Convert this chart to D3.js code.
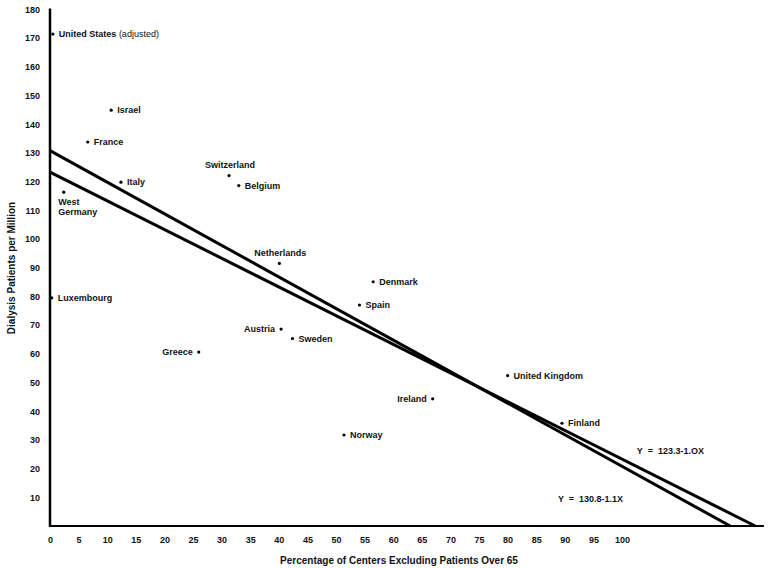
<!DOCTYPE html>
<html>
<head>
<meta charset="utf-8">
<script src="https://cdn.jsdelivr.net/npm/d3@7"></script>
<style>
	body { margin: 0; background: #fff; }
	text { font-family: 'Liberation Sans', Arial, sans-serif; font-weight: bold; fill: #111; }
</style>
</head>
<body>
<svg width="769" height="568"></svg>
<script>
// Countries
const countries = ['United States', 'Israel', 'France', 'Italy', 'West Germany', 'Luxembourg',
	'Switzerland', 'Belgium', 'Netherlands', 'Denmark', 'Spain', 'Austria', 'Sweden', 'Greece',
	'United Kingdom', 'Ireland', 'Finland', 'Norway'];
// % of centers excluding patients over 65
const pctExcluding = [0.5, 10.7, 6.6, 12.4, 2.4, 0.3, 31.3, 33.0, 40.1, 56.5, 54.1, 40.4, 42.4, 26.0,
	80.0, 66.9, 89.5, 51.4];
// dialysis patients per million
const patientsPerMillion = [171.4, 144.9, 133.8, 119.8, 116.3, 79.5, 122.1, 118.6, 91.5, 85.1, 77.0,
	68.6, 65.3, 60.6, 52.4, 44.3, 35.8, 31.7];

// Two fitted lines: intercept, slope, label
const fitIntercepts = [123.3, 130.8];
const fitSlopes = [-1.0, -1.1];
const fitLabels = ['Y  =  123.3-1.OX', 'Y  =  130.8-1.1X'];

const xTicks = [0, 5, 10, 15, 20, 25, 30, 35, 40, 45, 50, 55, 60, 65, 70, 75, 80, 85, 90, 95, 100];
const yTicks = [10, 20, 30, 40, 50, 60, 70, 80, 90, 100, 110, 120, 130, 140, 150, 160, 170, 180];

let svg = d3.select('svg');

let x = d3.scaleLinear().domain([0, 100]).range([50, 622]);
let y = d3.scaleLinear().domain([0, 180]).range([526, 9.4]);
let xEnd = 124.8; // axis line runs past 100

// Label placement (not data, just where the text sits relative to the dot)
const leftSide = ['Austria', 'Greece', 'Ireland'];
const aboveSide = ['Switzerland', 'Netherlands'];

// axes (labels only, lines drawn by hand below)
let xAxis = svg.append('g')
	.attr('transform', 'translate(0,' + y(0) + ')')
	.call(d3.axisBottom(x).tickValues(xTicks).tickSize(0).tickPadding(11));
let yAxis = svg.append('g')
	.attr('transform', 'translate(' + x(0) + ',0)')
	.call(d3.axisLeft(y).tickValues(yTicks).tickSize(0).tickPadding(10));
[xAxis, yAxis].forEach(a =>
{
	a.select('.domain').remove();
	a.selectAll('text').style('font-size', '9px').style('font-family', null);
});

svg.append('line')
	.attr('x1', x(0)).attr('x2', x(xEnd))
	.attr('y1', y(0)).attr('y2', y(0))
	.attr('stroke', '#000').attr('stroke-width', 2.2);
svg.append('line')
	.attr('x1', x(0)).attr('x2', x(0))
	.attr('y1', y(0) + 1).attr('y2', y(180) - 1)
	.attr('stroke', '#000').attr('stroke-width', 2.5);

// fitted lines, from x=0 to where they hit the x axis
fitIntercepts.forEach((b, i) =>
{
	let m = fitSlopes[i];
	let xz = -b / m;
	svg.append('line')
		.attr('x1', x(0)).attr('y1', y(b))
		.attr('x2', x(xz)).attr('y2', y(0))
		.attr('stroke', '#000').attr('stroke-width', 3);
});

// equation labels
svg.append('text').attr('x', x(102.6)).attr('y', y(25.0))
	.style('font-size', '9px').style('white-space', 'pre').text(fitLabels[0]);
svg.append('text').attr('x', x(88.8)).attr('y', y(8.3))
	.style('font-size', '9px').style('white-space', 'pre').text(fitLabels[1]);

// points
let pts = countries.map((c, i) => ({ name: c, px: pctExcluding[i], py: patientsPerMillion[i] }));

svg.selectAll('circle.pt').data(pts).enter()
	.append('circle')
	.attr('class', 'pt')
	.attr('cx', d => x(d.px))
	.attr('cy', d => y(d.py))
	.attr('r', 1.6)
	.attr('fill', '#000');

let labels = svg.selectAll('text.lbl').data(pts).enter()
	.append('text')
	.attr('class', 'lbl')
	.style('font-size', '9px');

labels.each(function (d)
{
	let t = d3.select(this);
	let cx = x(d.px), cy = y(d.py);
	if (d.name == 'West Germany')
	{
		t.attr('x', cx - 5.5).attr('y', cy + 12.5);
		t.append('tspan').text('West');
		t.append('tspan').attr('x', cx - 5.5).attr('dy', 10).text('Germany');
	}
	else if (d.name == 'United States')
	{
		t.attr('x', cx + 6).attr('y', cy + 3.2);
		t.append('tspan').text('United States ');
		t.append('tspan').style('font-weight', 'normal').text('(adjusted)');
	}
	else if (leftSide.includes(d.name))
		t.attr('x', cx - 6).attr('y', cy + 3.2).attr('text-anchor', 'end').text(d.name);
	else if (aboveSide.includes(d.name))
		t.attr('x', cx + 1).attr('y', cy - 7.5).attr('text-anchor', 'middle').text(d.name);
	else
		t.attr('x', cx + 6).attr('y', cy + 3.2).text(d.name);
});

// axis titles
svg.append('text')
	.attr('x', 399).attr('y', 564)
	.attr('text-anchor', 'middle')
	.style('font-size', '10px')
	.text('Percentage of Centers Excluding Patients Over 65');
svg.append('text')
	.attr('transform', 'translate(15,268) rotate(-90)')
	.attr('text-anchor', 'middle')
	.style('font-size', '10px')
	.text('Dialysis Patients per Million');
</script>
</body>
</html>
